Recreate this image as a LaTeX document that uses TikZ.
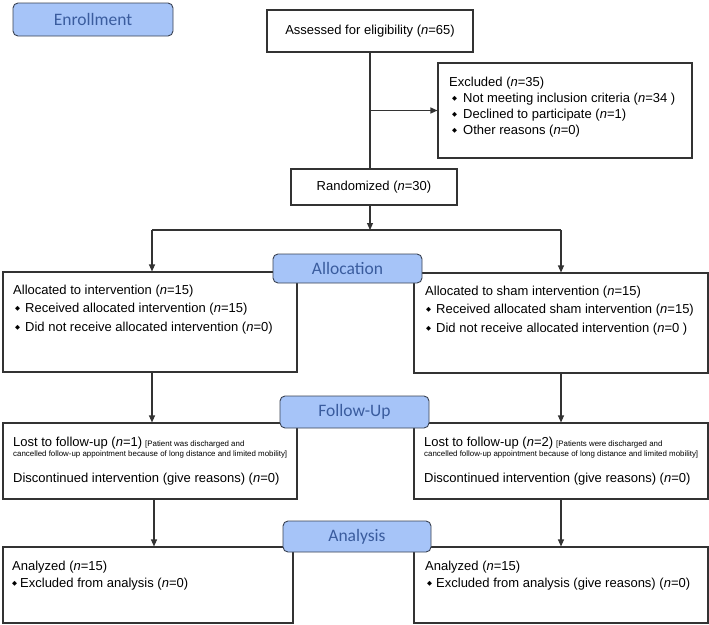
\documentclass[tikz,border=0pt]{standalone}
\usepackage{fontspec}
\setmainfont{Liberation Sans}
\newfontfamily\lblfont{Carlito}
\newfontfamily\djv{DejaVu Sans}
\usetikzlibrary{arrows.meta}
\definecolor{lnc}{RGB}{51,51,51}
\definecolor{lblfill}{RGB}{166,196,248}
\definecolor{lbltext}{RGB}{58,92,158}
\definecolor{lbldraw}{RGB}{58,66,82}
\newcommand\bl[1]{\makebox[#1][l]{\raisebox{2.2pt}{\djv\fontsize{6.5}{6.5}\selectfont ◆}}}
\newcommand\nn{\textit{n}}
\newcommand\smalltxt{\fontsize{7.9}{9}\selectfont}
\begin{document}
\begin{tikzpicture}[x=1pt,y=-1pt,
  box/.style={draw=lnc, line width=1.1pt, inner sep=0pt, fill=white, font=\fontsize{13}{15}\selectfont},
  lbl/.style={draw=lbldraw, line width=0.9pt, fill=lblfill, rounded corners=5pt, text=lbltext, font=\lblfont\fontsize{17.5}{20}\selectfont, inner sep=0pt},
  txt/.style={anchor=base west, inner sep=0pt, font=\fontsize{13}{15}\selectfont},
  small/.style={anchor=base west, inner sep=0pt, font=\smalltxt},
  arr/.style={draw=lnc, line width=1.1pt, -{Triangle[width=6pt,length=7pt]}},
  ln/.style={draw=lnc, line width=1.1pt}]
\useasboundingbox (0,0) rectangle (709,624);

% boxes
\node[box, minimum width=206pt, minimum height=42pt] (assess) at (370,31) {Assessed for eligibility (\nn=65)};
\node[box, minimum width=254pt, minimum height=95pt] (excl) at (565,110.5) {};
\node[box, minimum width=166pt, minimum height=36pt] (rand) at (374,187) {Randomized (\nn=30)};
\node[box, minimum width=294pt, minimum height=100pt] (alocL) at (150,322) {};
\node[box, minimum width=294pt, minimum height=100pt] (alocR) at (561,323) {};
\node[box, minimum width=294pt, minimum height=76pt] (fuL) at (150,461) {};
\node[box, minimum width=294pt, minimum height=76pt] (fuR) at (561,461) {};
\node[box, minimum width=290pt, minimum height=76pt] (anL) at (148,585) {};
\node[box, minimum width=294pt, minimum height=76pt] (anR) at (561,585) {};

% texts
\node[txt] (ex1) at (449,86) {Excluded (\nn=35)};
\node[txt] (ex2) at (452,102.5) {\bl{11pt}Not meeting inclusion criteria (\nn=34 )};
\node[txt] (ex3) at (452,118.5) {\bl{11pt}Declined to participate (\nn=1)};
\node[txt] (ex4) at (452,134.5) {\bl{11pt}Other reasons (\nn=0)};

\node[txt] (al1) at (13,294) {Allocated to intervention (\nn=15)};
\node[txt] (al2) at (15,312.5) {\bl{10pt}Received allocated intervention (\nn=15)};
\node[txt] (al3) at (15,331.5) {\bl{10pt}Did not receive allocated intervention (\nn=0)};

\node[txt] (ar1) at (425,295) {Allocated to sham intervention (\nn=15)};
\node[txt] (ar2) at (426,313.5) {\bl{10pt}Received allocated sham intervention (\nn=15)};
\node[txt] (ar3) at (426,332.5) {\bl{10pt}Did not receive allocated intervention (\nn=0 )};

\node[txt] (fl1) at (13,446) {Lost to follow-up (\nn=1)\hspace{3pt}{\smalltxt[Patient was discharged and}};
\node[small] (fl2) at (13,456) {cancelled follow-up appointment because of long distance and limited mobility]};
\node[txt] (fl3) at (13,482) {Discontinued intervention (give reasons) (\nn=0)};

\node[txt] (fr1) at (424,446) {Lost to follow-up (\nn=2)\hspace{3pt}{\smalltxt[Patients were discharged and}};
\node[small] (fr2) at (424,456) {cancelled follow-up appointment because of long distance and limited mobility]};
\node[txt] (fr3) at (424,482) {Discontinued intervention (give reasons) (\nn=0)};

\node[txt] (nl1) at (12,570.5) {Analyzed (\nn=15)};
\node[txt] (nl2) at (12,587.5) {\bl{8pt}Excluded from analysis (\nn=0)};
\node[txt] (nr1) at (425,570.5) {Analyzed (\nn=15)};
\node[txt] (nr2) at (427,587.5) {\bl{9pt}Excluded from analysis (give reasons) (\nn=0)};

% connectors
\coordinate (split) at (370,230);
\coordinate (splitL) at (152,230);
\coordinate (splitR) at (561,230);
\coordinate (colL) at (154,0);
\draw[ln] (assess.south) -- (assess.south |- rand.north);
\draw[arr] (assess.south |- excl.west) -- (excl.west);
\draw[arr] (assess.south |- rand.south) -- (split);
\draw[ln] (splitL) -- (splitR);
\draw[arr] (splitL) -- (splitL |- alocL.north);
\draw[arr] (splitR) -- (alocR.north);
\draw[arr] (splitL |- alocL.south) -- (splitL |- fuL.north);
\draw[arr] (alocR.south) -- (fuR.north);
\draw[arr] (colL |- fuL.south) -- (colL |- anL.north);
\draw[arr] (fuR.south) -- (anR.north);

% phase labels
\node[lbl, minimum width=160pt, minimum height=33pt] (enr) at (93,19.5) {Enrollment};
\node[lbl, minimum width=149pt, minimum height=29pt] (alloc) at (347.5,268.5) {Allocation};
\node[lbl, minimum width=149pt, minimum height=32pt] (follow) at (354.5,412) {Follow-Up};
\node[lbl, minimum width=148pt, minimum height=31pt] (anal) at (357,536.5) {Analysis};
\end{tikzpicture}
\end{document}
